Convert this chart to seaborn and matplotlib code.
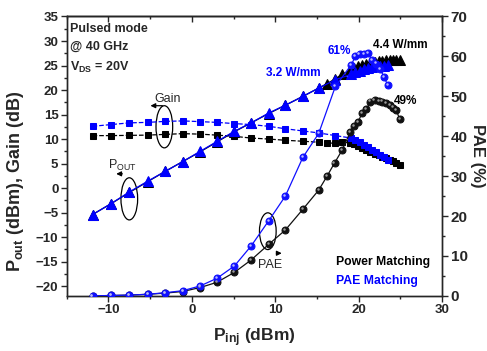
import matplotlib
matplotlib.use("Agg")
import matplotlib.pyplot as plt
import seaborn as sns
from matplotlib.patches import Ellipse
from matplotlib.ticker import MultipleLocator
from matplotlib.transforms import offset_copy

# Power matching (black)
pin_pm = [-11.9, -9.7, -7.5, -5.3, -3.2, -1.1, 1.0, 3.0, 5.1, 7.1, 9.2, 11.2, 13.3, 15.2, 16.2, 17.1, 18.0,
          19.0, 19.4, 19.9, 20.4, 20.9, 21.4, 21.9, 22.4, 22.8, 23.3, 23.7, 24.1, 24.5, 24.9]
pout_pm = [-5.4, -3.2, -0.9, 1.3, 3.4, 5.4, 7.4, 9.4, 11.5, 13.3, 15.2, 16.9, 18.7, 20.4, 21.3, 22.2, 23.2,
           24.0, 24.4, 24.8, 25.1, 25.4, 25.6, 25.8, 25.9, 26.0, 26.1, 26.2, 26.2, 26.2, 26.2]
gain_pm = [10.7, 10.7, 10.75, 10.8, 10.95, 11.1, 11.0, 10.8, 10.55, 10.2, 10.0, 9.75, 9.55, 9.35, 9.2, 9.15, 9.35,
           9.2, 8.9, 8.6, 8.2, 7.8, 7.4, 7.0, 6.7, 6.4, 6.1, 5.8, 5.5, 5.2, 4.8]
pae_pm = [0.0, 0.1, 0.2, 0.4, 0.7, 1.1, 2.1, 3.4, 5.9, 9.0, 12.9, 16.5, 21.7, 26.5, 30.0, 33.3, 36.5,
          41.1, 42.6, 43.5, 45.8, 46.7, 48.7, 49.0, 48.9, 48.7, 48.3, 47.9, 47.2, 46.5, 44.3]

# PAE matching (blue)
pin_em = [-11.9, -9.7, -7.5, -5.3, -3.2, -1.1, 1.0, 3.0, 5.1, 7.1, 9.2, 11.2, 13.3, 15.2, 17.2,
          19.1, 19.6, 20.1, 20.6, 21.1, 21.6, 22.1, 22.6, 23.0, 23.5]
pout_em = [-5.4, -3.2, -0.8, 1.4, 3.4, 5.4, 7.5, 9.5, 11.6, 13.3, 15.3, 16.9, 18.7, 20.4, 22.1,
           23.2, 23.6, 23.9, 24.2, 24.4, 24.6, 24.8, 24.9, 25.0, 25.1]
gain_em = [12.6, 12.95, 13.3, 13.4, 13.6, 13.7, 13.55, 13.4, 13.15, 12.95, 12.6, 12.1, 11.65, 11.25, 10.7,
           10.2, 9.8, 9.3, 8.8, 8.3, 7.8, 7.3, 6.8, 6.3, 5.8]
pae_em = [0.0, 0.1, 0.2, 0.4, 0.8, 1.3, 2.5, 4.4, 7.5, 12.5, 18.8, 25.0, 34.7, 40.7, 52.5,
          57.9, 60.0, 60.5, 60.7, 60.8, 59.0, 58.2, 56.9, 54.8, 52.8]

BLUE = "#0000ff"
BLACK = "#000000"

sns.set_style("ticks")
plt.rcParams["font.family"] = ["Liberation Sans", "DejaVu Sans"]
plt.rcParams["mathtext.fontset"] = "custom"
plt.rcParams["mathtext.rm"] = "Liberation Sans"
plt.rcParams["mathtext.bf"] = "Liberation Sans:bold"
plt.rcParams["axes.linewidth"] = 1.0

fig = plt.figure(figsize=(4.87, 3.51), dpi=100)
ax = fig.add_axes([0.137, 0.157, 0.771, 0.796])
ax2 = ax.twinx()


def draw(axis, x, y, color, marker, ms, ls):
    sns.lineplot(x=x, y=y, ax=axis, color=color, marker=marker, markersize=ms, linestyle=ls,
                 linewidth=0.9, markeredgecolor=color, sort=False, legend=False, zorder=3)


draw(ax, pin_pm, gain_pm, BLACK, "s", 5, "--")
draw(ax, pin_pm, pout_pm, BLACK, "^", 6.5, "-")
draw(ax, pin_em, gain_em, BLUE, "s", 5, "--")
draw(ax, pin_em, pout_em, BLUE, "^", 6.5, "-")

draw(ax2, pin_pm, pae_pm, "#111111", "o", 5, "-")
draw(ax2, pin_em, pae_em, "#1010ff", "o", 5, "-")
# sphere highlights
hl = offset_copy(ax2.transData, fig=fig, x=-0.8, y=0.8, units="points")
ax2.plot(pin_pm, pae_pm, "o", ms=1.8, color="#9a9a9a", mec="none", transform=hl, zorder=4)
ax2.plot(pin_em, pae_em, "o", ms=1.8, color="#b8b8ff", mec="none", transform=hl, zorder=4)

ax.set_xlim(-15, 30)
ax.set_ylim(-22, 35)
ax2.set_ylim(0, 70)

ax.xaxis.set_major_locator(MultipleLocator(10))
ax.xaxis.set_minor_locator(MultipleLocator(5))
ax.yaxis.set_major_locator(MultipleLocator(5))
ax.yaxis.set_minor_locator(MultipleLocator(2.5))
ax2.yaxis.set_major_locator(MultipleLocator(10))
ax2.yaxis.set_minor_locator(MultipleLocator(5))

ax.tick_params(which="major", direction="out", length=4, width=1, labelsize=9.5, pad=2)
ax.tick_params(which="minor", direction="out", length=2.5, width=1)
ax2.tick_params(which="major", direction="out", length=4, width=1, labelsize=11, pad=2)
ax2.tick_params(which="minor", direction="out", length=2.5, width=1)
for lab in ax.get_xticklabels() + ax.get_yticklabels() + ax2.get_yticklabels():
    lab.set_fontweight("bold")

top = ax.secondary_xaxis("top")
top.xaxis.set_major_locator(MultipleLocator(10))
top.xaxis.set_minor_locator(MultipleLocator(5))
top.tick_params(which="major", direction="in", length=4, width=1, labeltop=False)
top.tick_params(which="minor", direction="in", length=2.5, width=1)

ax.set_xlabel(r"$\mathbf{P_{inj}}$ (dBm)", fontsize=12.5, fontweight="bold")
ax.xaxis.set_label_coords(0.5, -0.108)
ax.set_ylabel(r"$\mathbf{P_{out}}$ (dBm), Gain (dB)", fontsize=13, fontweight="bold")
ax.yaxis.set_label_coords(-0.108, 0.41)
ax2.set_ylabel("PAE (%)", fontsize=12, fontweight="bold", rotation=-90, va="center")
ax2.yaxis.set_label_coords(1.093, 0.5)

# annotations
ax.text(-14.6, 33.7, "Pulsed mode", fontsize=9, fontweight="bold", va="top")
ax.text(-14.6, 30.0, "@ 40 GHz", fontsize=9, fontweight="bold", va="top")
ax.text(-14.6, 26.2, r"V$_{\mathbf{DS}}$ = 20V", fontsize=9, fontweight="bold", va="top")

ax.text(-2.9, 18.2, "Gain", fontsize=9, ha="center", va="center")
ax.add_patch(Ellipse((-3.3, 12.5), 2.0, 8.6, fill=False, lw=0.9, color="black"))
ax.annotate("", xy=(-5.3, 16.8), xytext=(-3.2, 16.8),
            arrowprops=dict(arrowstyle="-|>", lw=0.9, color="black", mutation_scale=7))

ax.text(-10.0, 4.6, r"P$_{\mathrm{OUT}}$", fontsize=9, ha="left", va="center")
ax.add_patch(Ellipse((-7.5, -2.2), 2.0, 8.6, fill=False, lw=0.9, color="black"))
ax.annotate("", xy=(-9.4, 2.9), xytext=(-8.0, 2.9),
            arrowprops=dict(arrowstyle="-|>", lw=0.9, color="black", mutation_scale=7))

ax.text(9.4, -15.6, "PAE", fontsize=9, ha="center", va="center")
ax.add_patch(Ellipse((9.1, -8.8), 2.0, 7.5, fill=False, lw=0.9, color="black"))
ax.annotate("", xy=(11.1, -13.3), xytext=(9.8, -13.3),
            arrowprops=dict(arrowstyle="-|>", lw=0.9, color="black", mutation_scale=7))

ax.text(17.7, 28.0, "61%", fontsize=8.5, fontweight="bold", color=BLUE, ha="center", va="center")
ax.text(25.0, 29.2, "4.4 W/mm", fontsize=8.5, fontweight="bold", color=BLACK, ha="center", va="center")
ax.text(12.1, 23.5, "3.2 W/mm", fontsize=8.5, fontweight="bold", color=BLUE, ha="center", va="center")
ax.text(25.6, 17.8, "49%", fontsize=8.5, fontweight="bold", color=BLACK, ha="center", va="center")

ax.text(17.3, -15.0, "Power Matching", fontsize=8.8, fontweight="bold", color=BLACK, ha="left", va="center")
ax.text(17.3, -18.9, "PAE Matching", fontsize=8.8, fontweight="bold", color=BLUE, ha="left", va="center")

fig.savefig("out.png", dpi=100)
